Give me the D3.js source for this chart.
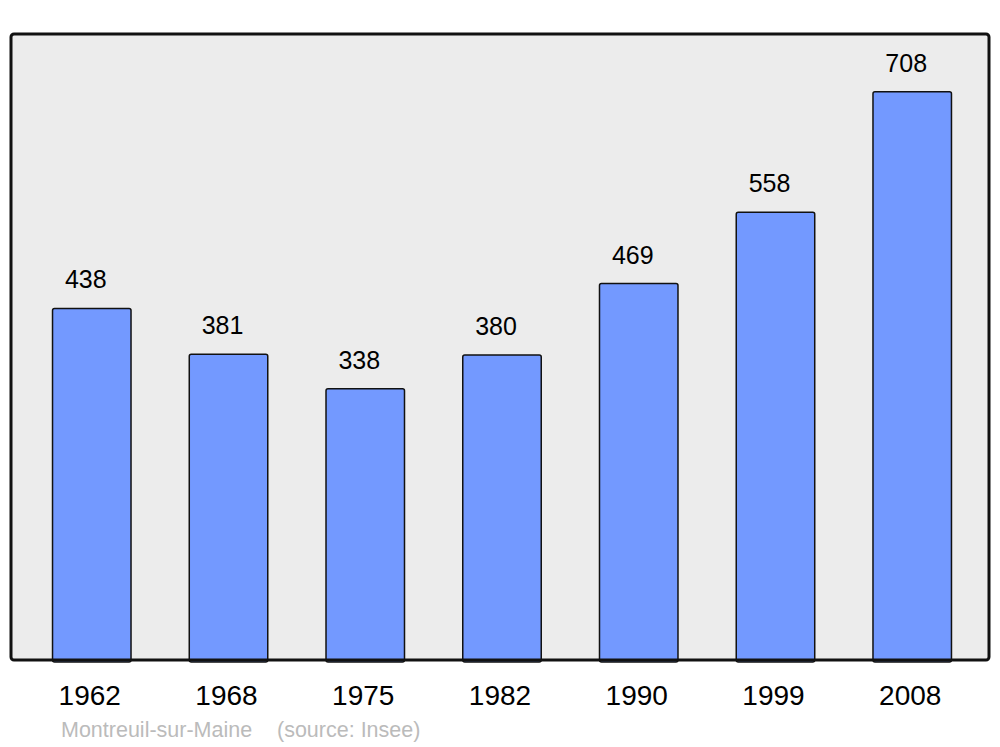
<!DOCTYPE html>
<html>
<head>
<meta charset="utf-8">
<script src="https://cdn.jsdelivr.net/npm/d3@7"></script>
<style>
  body { margin: 0; background: #fff; }
  text { font-family: "Liberation Sans", Arial, sans-serif; }
</style>
</head>
<body>
<div id="main"></div>
<script>
var years = ["1962", "1968", "1975", "1982", "1990", "1999", "2008"];
var population = [438, 381, 338, 380, 469, 558, 708];
var commune = "Montreuil-sur-Maine";
var source = "(source: Insee)";

var width = 1000, height = 747;
var panel = {left: 11, right: 989, top: 34, bottom: 660};

var svg = d3.select('#main')
    .append('svg')
    .attr("width", width)
    .attr("height", height);

var x = d3.scaleBand()
    .domain(years)
    .range([23.4, 980.6])
    .paddingInner(0.426)
    .paddingOuter(0.213);

var y = d3.scaleLinear()
    .domain([0, 780])
    .range([panel.bottom, panel.top]);

// background panel
svg.append("rect")
    .attr("x", panel.left)
    .attr("y", panel.top)
    .attr("width", panel.right - panel.left)
    .attr("height", panel.bottom - panel.top)
    .attr("rx", 3)
    .attr("fill", "#ececec");

var data = years.map(function(d, i) { return {year: d, value: population[i]}; });

// bars
svg.selectAll(".bar")
    .data(data)
    .enter().append("rect")
    .attr("class", "bar")
    .attr("x", function(d) { return x(d.year); })
    .attr("y", function(d) { return y(d.value); })
    .attr("width", x.bandwidth())
    .attr("height", function(d) { return panel.bottom - y(d.value) + 2; })
    .attr("rx", 2)
    .attr("fill", "#7399ff")
    .attr("stroke", "#111")
    .attr("stroke-width", 1.5);

// panel border drawn on top
svg.append("rect")
    .attr("x", panel.left)
    .attr("y", panel.top)
    .attr("width", panel.right - panel.left)
    .attr("height", panel.bottom - panel.top)
    .attr("rx", 3)
    .attr("fill", "none")
    .attr("stroke", "#111")
    .attr("stroke-width", 3);

// value labels
svg.selectAll(".value")
    .data(data)
    .enter().append("text")
    .attr("class", "value")
    .attr("x", function(d) { return x(d.year) + x.bandwidth() / 2 - 6; })
    .attr("y", function(d) { return y(d.value) - 20; })
    .attr("text-anchor", "middle")
    .attr("font-size", 25)
    .attr("fill", "#000")
    .text(function(d) { return d.value; });

// year labels
svg.selectAll(".year")
    .data(data)
    .enter().append("text")
    .attr("class", "year")
    .attr("x", function(d) { return x(d.year) + x.bandwidth() / 2 - 2; })
    .attr("y", 705)
    .attr("text-anchor", "middle")
    .attr("font-size", 28)
    .attr("fill", "#000")
    .text(function(d) { return d.year; });

// footnote
svg.append("text")
    .attr("x", 61)
    .attr("y", 737)
    .attr("font-size", 21.5)
    .attr("fill", "#bbb")
    .text(commune);

svg.append("text")
    .attr("x", 277)
    .attr("y", 737)
    .attr("font-size", 21.5)
    .attr("fill", "#bbb")
    .text(source);
</script>
</body>
</html>
